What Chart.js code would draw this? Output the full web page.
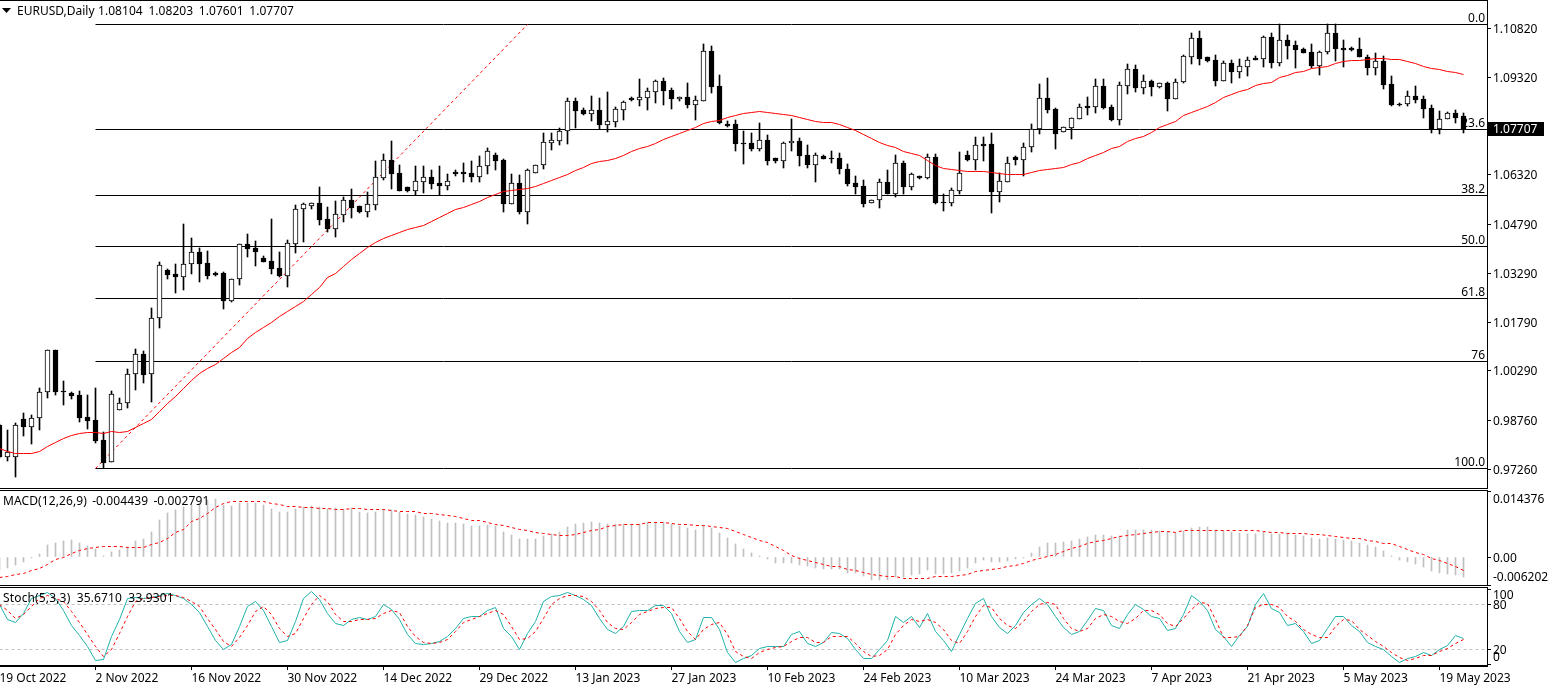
<!DOCTYPE html>
<html><head><meta charset="utf-8"><title>EURUSD,Daily</title>
<script src="https://cdn.jsdelivr.net/npm/chart.js@4"></script>
<style>
html,body{margin:0;padding:0;background:#fff;width:1552px;height:686px;overflow:hidden}
canvas{position:absolute;left:0;display:block}
</style></head><body>
<canvas id="price" width="1552" height="489" style="top:0"></canvas>
<canvas id="macd" width="1552" height="96" style="top:490px"></canvas>
<canvas id="stoch" width="1552" height="99" style="top:587px"></canvas>
<script>
const opens=[0.9862,0.9762,0.9762,0.9880,0.9855,0.9882,0.9963,1.0092,0.9966,0.9960,0.9954,0.9885,0.9877,0.9815,0.9748,0.9907,0.9929,1.0018,1.0080,1.0018,1.0190,1.0338,1.0326,1.0317,1.0357,1.0393,1.0360,1.0329,1.0329,1.0243,1.0310,1.0418,1.0406,1.0374,1.0366,1.0344,1.0320,1.0418,1.0525,1.0535,1.0544,1.0495,1.0464,1.0507,1.0553,1.0535,1.0516,1.0538,1.0621,1.0676,1.0636,1.0593,1.0581,1.0609,1.0624,1.0606,1.0596,1.0639,1.0639,1.0636,1.0624,1.0658,1.0692,1.0676,1.0541,1.0606,1.0516,1.0636,1.0661,1.0729,1.0735,1.0765,1.0858,1.0830,1.0818,1.0830,1.0784,1.0793,1.0830,1.0867,1.0861,1.0867,1.0885,1.0919,1.0891,1.0864,1.0870,1.0845,1.0858,1.1011,1.0904,1.0787,1.0787,1.0729,1.0729,1.0710,1.0738,1.0682,1.0673,1.0729,1.0735,1.0692,1.0661,1.0689,1.0682,1.0682,1.0648,1.0606,1.0596,1.0544,1.0553,1.0609,1.0572,1.0667,1.0593,1.0627,1.0621,1.0686,1.0547,1.0544,1.0581,1.0692,1.0676,1.0725,1.0725,1.0578,1.0609,1.0686,1.0676,1.0716,1.0771,1.0867,1.0833,1.0762,1.0774,1.0802,1.0842,1.0839,1.0904,1.0839,1.0799,1.0904,1.0956,1.0898,1.0919,1.0901,1.0913,1.0864,1.0916,1.0993,1.1051,1.0993,1.0984,1.0919,1.0974,1.0947,1.0962,1.0990,1.0987,1.1054,1.0974,1.1045,1.1030,1.1017,1.1008,1.0965,1.1008,1.1067,1.1020,1.1020,1.1017,1.0993,1.0959,1.0981,1.0910,1.0848,1.0848,1.0873,1.0864,1.0836,1.0771,1.0802,1.0821,1.08104];
const highs=[0.9865,0.9846,0.9868,0.9898,0.9892,0.9975,1.0092,1.0092,0.9997,0.9963,0.9966,0.9954,0.9975,0.9840,0.9966,0.9944,1.0033,1.0095,1.0089,1.0221,1.0363,1.0341,1.0357,1.0480,1.0436,1.0406,1.0396,1.0332,1.0332,1.0310,1.0418,1.0449,1.0427,1.0381,1.0495,1.0393,1.0430,1.0538,1.0544,1.0544,1.0593,1.0532,1.0550,1.0562,1.0587,1.0535,1.0578,1.0673,1.0695,1.0735,1.0661,1.0593,1.0658,1.0658,1.0645,1.0658,1.0633,1.0645,1.0667,1.0673,1.0689,1.0713,1.0698,1.0679,1.0633,1.0630,1.0648,1.0661,1.0759,1.0759,1.0774,1.0867,1.0867,1.0836,1.0873,1.0867,1.0885,1.0839,1.0858,1.0870,1.0925,1.0898,1.0922,1.0928,1.0898,1.0870,1.0913,1.0873,1.1033,1.1027,1.0938,1.0796,1.0799,1.0765,1.0759,1.0790,1.0753,1.0682,1.0732,1.0802,1.0744,1.0722,1.0698,1.0692,1.0704,1.0698,1.0664,1.0627,1.0615,1.0553,1.0618,1.0645,1.0692,1.0673,1.0636,1.0627,1.0695,1.0695,1.0572,1.0590,1.0701,1.0704,1.0747,1.0747,1.0759,1.0636,1.0686,1.0689,1.0729,1.0787,1.0910,1.0928,1.0836,1.0778,1.0805,1.0848,1.0870,1.0925,1.0925,1.0845,1.0916,1.0971,1.0968,1.0938,1.0922,1.0913,1.0916,1.0925,1.0999,1.1067,1.1073,1.0993,1.0999,1.0981,1.0984,1.0987,1.0993,1.0996,1.1057,1.1067,1.1094,1.1060,1.1042,1.1020,1.1033,1.1011,1.1094,1.1094,1.1045,1.1023,1.1051,1.0999,1.1005,1.0996,1.0934,1.0851,1.0888,1.0904,1.0873,1.0845,1.0827,1.0824,1.0830,1.08203];
const lows=[0.9759,0.9751,0.9701,0.9828,0.9803,0.9846,0.9944,0.9954,0.9923,0.9941,0.9871,0.9849,0.9806,0.9729,0.9748,0.9907,0.9913,0.9969,0.9991,0.9932,1.0159,1.0310,1.0267,1.0276,1.0326,1.0301,1.0310,1.0320,1.0218,1.0240,1.0292,1.0377,1.0351,1.0363,1.0326,1.0317,1.0286,1.0390,1.0424,1.0525,1.0476,1.0455,1.0439,1.0486,1.0498,1.0513,1.0501,1.0522,1.0615,1.0587,1.0581,1.0578,1.0569,1.0575,1.0587,1.0569,1.0584,1.0627,1.0609,1.0609,1.0609,1.0633,1.0645,1.0516,1.0541,1.0510,1.0480,1.0636,1.0648,1.0707,1.0722,1.0725,1.0774,1.0815,1.0796,1.0771,1.0762,1.0778,1.0799,1.0858,1.0842,1.0830,1.0851,1.0845,1.0833,1.0858,1.0836,1.0799,1.0858,1.0882,1.0787,1.0778,1.0704,1.0664,1.0704,1.0704,1.0661,1.0667,1.0651,1.0704,1.0658,1.0651,1.0609,1.0679,1.0667,1.0633,1.0596,1.0572,1.0532,1.0544,1.0528,1.0572,1.0562,1.0572,1.0584,1.0618,1.0618,1.0541,1.0519,1.0535,1.0572,1.0673,1.0645,1.0673,1.0513,1.0547,1.0609,1.0661,1.0627,1.0701,1.0756,1.0821,1.0710,1.0762,1.0741,1.0802,1.0815,1.0821,1.0833,1.0796,1.0784,1.0879,1.0885,1.0879,1.0873,1.0898,1.0827,1.0864,1.0913,1.0971,1.0968,1.0978,1.0904,1.0919,1.0913,1.0928,1.0934,1.0984,1.0962,1.0959,1.0965,1.0987,1.0959,1.1005,1.0959,1.0937,1.1002,1.0981,1.0962,1.1011,1.0993,1.0937,1.0937,1.0894,1.0842,1.0842,1.0842,1.0851,1.0805,1.0759,1.0756,1.0802,1.0790,1.07601];
const closes=[0.9762,0.9778,0.9862,0.9855,0.9882,0.9963,1.0092,0.9963,0.9963,0.9951,0.9882,0.9874,0.9812,0.9745,0.9957,0.9929,1.0018,1.0080,1.0015,1.0190,1.0354,1.0323,1.0317,1.0357,1.0393,1.0357,1.0320,1.0323,1.0243,1.0310,1.0418,1.0403,1.0393,1.0363,1.0341,1.0320,1.0421,1.0525,1.0541,1.0544,1.0492,1.0464,1.0510,1.0553,1.0528,1.0516,1.0541,1.0624,1.0676,1.0633,1.0581,1.0581,1.0612,1.0624,1.0602,1.0596,1.0612,1.0633,1.0633,1.0624,1.0658,1.0704,1.0673,1.0541,1.0606,1.0516,1.0645,1.0661,1.0732,1.0738,1.0765,1.0858,1.0827,1.0818,1.0830,1.0784,1.0796,1.0833,1.0855,1.0861,1.0870,1.0888,1.0919,1.0888,1.0864,1.0870,1.0845,1.0861,1.1011,1.0901,1.0790,1.0781,1.0725,1.0725,1.0710,1.0738,1.0673,1.0673,1.0729,1.0735,1.0689,1.0661,1.0692,1.0679,1.0679,1.0648,1.0602,1.0593,1.0541,1.0553,1.0609,1.0572,1.0667,1.0593,1.0633,1.0621,1.0686,1.0544,1.0544,1.0584,1.0636,1.0676,1.0722,1.0719,1.0578,1.0612,1.0667,1.0676,1.0716,1.0771,1.0867,1.0830,1.0756,1.0778,1.0805,1.0839,1.0836,1.0904,1.0836,1.0799,1.0907,1.0956,1.0898,1.0919,1.0901,1.0913,1.0864,1.0916,1.0996,1.1051,1.0987,1.0981,1.0919,1.0974,1.0947,1.0965,1.0984,1.0984,1.1054,1.0974,1.1045,1.1027,1.1014,1.1005,1.0965,1.1008,1.1067,1.1017,1.1014,1.1014,1.0993,1.0959,1.0981,1.0907,1.0845,1.0845,1.0873,1.0861,1.0833,1.0771,1.0802,1.0821,1.0805,1.07707];
const movingAverage=[0.9790,0.9781,0.9775,0.9775,0.9775,0.9781,0.9797,0.9809,0.9821,0.9830,0.9837,0.9840,0.9840,0.9837,0.9843,0.9840,0.9843,0.9855,0.9868,0.9880,0.9904,0.9929,0.9951,0.9975,1.0000,1.0021,1.0036,1.0049,1.0067,1.0086,1.0101,1.0129,1.0147,1.0162,1.0178,1.0196,1.0212,1.0227,1.0243,1.0264,1.0286,1.0317,1.0329,1.0351,1.0372,1.0390,1.0409,1.0424,1.0436,1.0445,1.0455,1.0464,1.0470,1.0476,1.0489,1.0501,1.0513,1.0525,1.0532,1.0541,1.0550,1.0562,1.0572,1.0581,1.0584,1.0587,1.0590,1.0596,1.0606,1.0615,1.0624,1.0633,1.0645,1.0655,1.0667,1.0673,1.0676,1.0682,1.0692,1.0704,1.0713,1.0719,1.0729,1.0741,1.0750,1.0759,1.0768,1.0778,1.0790,1.0796,1.0799,1.0808,1.0815,1.0821,1.0824,1.0827,1.0824,1.0821,1.0818,1.0815,1.0808,1.0802,1.0796,1.0793,1.0793,1.0787,1.0778,1.0768,1.0756,1.0744,1.0732,1.0722,1.0716,1.0704,1.0698,1.0692,1.0676,1.0661,1.0651,1.0648,1.0645,1.0642,1.0642,1.0642,1.0639,1.0636,1.0633,1.0633,1.0633,1.0639,1.0645,1.0648,1.0651,1.0655,1.0664,1.0670,1.0682,1.0692,1.0701,1.0713,1.0719,1.0735,1.0744,1.0750,1.0762,1.0778,1.0787,1.0796,1.0815,1.0824,1.0833,1.0842,1.0855,1.0870,1.0879,1.0888,1.0894,1.0907,1.0913,1.0916,1.0931,1.0937,1.0947,1.0950,1.0959,1.0962,1.0965,1.0974,1.0981,1.0984,1.0984,1.0987,1.0990,1.0990,1.0987,1.0987,1.0981,1.0974,1.0965,1.0959,1.0956,1.0950,1.0947,1.0941];
const macdHistogram=[-0.00278,-0.00242,-0.00183,-0.00117,-0.00029,0.00059,0.00256,0.00300,0.00344,0.00366,0.00300,0.00249,0.00176,0.00029,0.00102,0.00146,0.00212,0.00344,0.00388,0.00542,0.00805,0.00959,0.01039,0.01098,0.01149,0.01186,0.01244,0.01281,0.01149,0.01127,0.01186,0.01186,0.01186,0.01135,0.01054,0.00981,0.00981,0.01054,0.01098,0.01113,0.01091,0.01061,0.01076,0.01054,0.01076,0.00981,0.00966,0.00981,0.01039,0.01039,0.00981,0.00944,0.00930,0.00871,0.00842,0.00783,0.00747,0.00747,0.00725,0.00673,0.00673,0.00695,0.00673,0.00542,0.00490,0.00388,0.00388,0.00388,0.00454,0.00505,0.00542,0.00651,0.00717,0.00747,0.00761,0.00747,0.00725,0.00717,0.00717,0.00732,0.00732,0.00761,0.00761,0.00761,0.00732,0.00673,0.00630,0.00586,0.00688,0.00630,0.00520,0.00410,0.00278,0.00168,0.00081,0.00015,-0.00044,-0.00139,-0.00139,-0.00139,-0.00183,-0.00205,-0.00249,-0.00271,-0.00271,-0.00271,-0.00359,-0.00359,-0.00425,-0.00512,-0.00512,-0.00512,-0.00447,-0.00447,-0.00403,-0.00381,-0.00293,-0.00381,-0.00366,-0.00359,-0.00315,-0.00249,-0.00139,-0.00059,-0.00117,-0.00117,-0.00095,-0.00044,-0.00015,0.00088,0.00212,0.00307,0.00307,0.00322,0.00344,0.00395,0.00432,0.00490,0.00490,0.00454,0.00468,0.00586,0.00586,0.00600,0.00600,0.00578,0.00542,0.00527,0.00578,0.00644,0.00659,0.00659,0.00600,0.00578,0.00542,0.00527,0.00498,0.00505,0.00542,0.00505,0.00505,0.00527,0.00490,0.00461,0.00417,0.00395,0.00417,0.00395,0.00366,0.00344,0.00307,0.00264,0.00220,0.00139,0.00015,-0.00073,-0.00117,-0.00154,-0.00227,-0.00315,-0.00359,-0.00381,-0.00403,-0.004439];
const macdSignal=[-0.00447,-0.00425,-0.00381,-0.00351,-0.00293,-0.00249,-0.00146,-0.00044,0,0.00088,0.00161,0.00205,0.00227,0.00249,0.00249,0.00242,0.00227,0.00227,0.00227,0.00278,0.00322,0.00410,0.00542,0.00622,0.00783,0.00864,0.00966,0.01098,0.01186,0.01222,0.01237,0.01237,0.01237,0.01222,0.01186,0.01164,0.01127,0.01113,0.01098,0.01105,0.01083,0.01069,0.01054,0.01061,0.01069,0.01069,0.01061,0.01054,0.01047,0.01039,0.01017,0.01017,0.01003,0.00974,0.00966,0.00937,0.00922,0.00900,0.00856,0.00820,0.00805,0.00761,0.00725,0.00703,0.00659,0.00622,0.00600,0.00549,0.00527,0.00505,0.00490,0.00483,0.00512,0.00542,0.00600,0.00622,0.00673,0.00703,0.00717,0.00732,0.00732,0.00761,0.00761,0.00761,0.00754,0.00732,0.00725,0.00710,0.00710,0.00673,0.00666,0.00637,0.00564,0.00512,0.00447,0.00381,0.00322,0.00234,0.00161,0.00051,-0.00022,-0.00073,-0.00117,-0.00154,-0.00190,-0.00205,-0.00264,-0.00278,-0.00322,-0.00366,-0.00395,-0.00410,-0.00425,-0.00454,-0.00454,-0.00454,-0.00454,-0.00425,-0.00410,-0.00410,-0.00388,-0.00366,-0.00315,-0.00293,-0.00256,-0.00234,-0.00205,-0.00168,-0.00132,-0.00073,-0.00022,0.00029,0.00073,0.00124,0.00190,0.00249,0.00300,0.00344,0.00381,0.00417,0.00454,0.00483,0.00505,0.00520,0.00542,0.00564,0.00564,0.00556,0.00593,0.00600,0.00600,0.00600,0.00600,0.00600,0.00600,0.00600,0.00600,0.00593,0.00578,0.00556,0.00549,0.00534,0.00534,0.00520,0.00512,0.00505,0.00490,0.00468,0.00447,0.00425,0.00410,0.00381,0.00344,0.00307,0.00300,0.00234,0.00176,0.00102,0.00066,-0.00022,-0.00073,-0.00139,-0.00205,-0.002791];
const stochMain=[80,61,56,69,89,93,97,89,73,52,39,24,6,7,38,60,89,90,89,90,93,95,93,88,81,70,51,32,20,27,51,78,85,73,51,30,32,58,88,98,87,69,55,52,61,63,61,64,80,74,60,40,29,27,28,31,38,49,62,65,65,72,76,48,38,20,42,58,84,91,93,96,93,87,79,62,47,42,51,71,73,73,79,79,69,44,30,34,63,63,47,16,3,9,13,22,24,24,24,40,44,29,25,30,43,42,35,21,8,9,21,33,64,57,64,50,68,45,33,18,40,62,82,89,64,50,42,53,70,81,88,81,65,50,40,44,59,75,73,52,48,67,80,74,65,62,46,48,67,92,84,72,47,38,24,39,51,81,95,75,70,52,55,45,28,32,49,65,64,52,44,30,25,20,11,3,8,11,17,13,20,26,39,35.671];
const stochSignal=[80,73,62,67,78,89,93,89,84,71,56,40,24,11,20,42,64,84,89,90,91,92,92,90,84,78,62,47,31,25,36,53,71,78,67,49,38,42,62,80,92,84,67,58,58,61,60,62,69,72,70,51,38,30,28,30,34,45,56,61,64,69,72,67,51,34,35,44,62,80,89,93,93,91,84,72,56,49,47,56,67,71,75,76,76,62,44,34,47,54,57,40,18,11,9,17,20,23,24,31,37,36,30,30,38,38,38,28,18,11,13,21,40,53,60,58,60,57,47,32,29,44,64,79,76,62,52,48,58,71,81,83,80,62,49,44,49,62,67,64,58,55,62,72,72,67,55,51,62,74,83,82,60,37,36,38,53,76,81,81,76,64,58,47,41,36,37,51,60,59,47,39,31,24,17,10,6,8,12,13,18,22,29,33.93];
const priceTicks=[1.1082,1.0932,1.0782,1.0632,1.0479,1.0329,1.0179,1.0029,0.9876,0.9726];
const macdTicks=[0.014376,0,-0.006202];
const stochTicks=[100,80,20,0];
const stochLevels=[80,20];
const dateLabels=['19 Oct 2022','2 Nov 2022','16 Nov 2022','30 Nov 2022','14 Dec 2022','29 Dec 2022','13 Jan 2023','27 Jan 2023','10 Feb 2023','24 Feb 2023','10 Mar 2023','24 Mar 2023','7 Apr 2023','21 Apr 2023','5 May 2023','19 May 2023'];
const barsPerLabel=12;
const fibLabels=['0.0','23.6','38.2','50.0','61.8','76','100.0'];
const fibPrices=[1.1093,1.0771,1.0570,1.0411,1.0251,1.0057,0.9728];
const fibFromBar=12, fibToBar=186, trendToBar=66;
const symbolTitle='EURUSD,Daily', ohlcTitle='1.08104 1.08203 1.07601 1.07707';
const macdTitle='MACD(12,26,9) -0.004439 -0.002791';
const stochTitle='Stoch(5,3,3) 35.6710 33.9301';
const lastPrice=1.07707;

const FONT='12px "Noto Sans"', INK='#000';
const XMIN=0.0625, XMAX=185.9375, AXIS_W=65;
const bars=opens.map((_,i)=>i);

function snap(s){const p=Object.getPrototypeOf(s);s.getPixelForValue=v=>Math.round(p.getPixelForValue.call(s,v));}
function xAxis(show){return {type:'linear',display:show,min:XMIN,max:XMAX,offset:false,
  grid:{display:show,offset:false,drawOnChartArea:false,color:INK,tickLength:4},
  border:{display:show,color:INK},
  afterBuildTicks(s){s.ticks=dateLabels.map((_,k)=>({value:k*barsPerLabel}));},
  afterFit(s){s.paddingLeft=0;s.paddingRight=0;if(show)s.height=20;},
  ticks:{display:show,autoSkip:false,maxRotation:0,align:'start',padding:1,color:INK,font:{family:'Noto Sans',size:12},
    callback(v){return dateLabels[Math.round(v/barsPerLabel)];}}};}
function yAxis(min,max,ticks,labelled,fmt){return {type:'linear',position:'right',min,max,
  grid:{drawOnChartArea:false,color:INK,tickLength:4},border:{display:true,color:INK},
  afterBuildTicks(s){s.ticks=ticks.map(v=>({value:v}));snap(s);},
  afterFit(s){s.width=AXIS_W;s.paddingTop=0;s.paddingBottom=0;},
  ticks:{display:labelled,autoSkip:false,padding:2,labelOffset:2,color:INK,font:{family:'Noto Sans',size:12},callback:fmt}};}
const crisp={id:'crisp',
  beforeDatasetDraw(c,a){if(a.meta.type==='line'){c.ctx.save();c.ctx.translate(0,0.5);}},
  afterDatasetDraw(c,a){if(a.meta.type==='line')c.ctx.restore();}};
function text(ctx,s,x,y,align,color,letter,word){ctx.save();ctx.font=FONT;ctx.fillStyle=color||INK;ctx.textAlign=align||'left';ctx.textBaseline='middle';
  ctx.letterSpacing=(letter||0)+'px';ctx.wordSpacing=(word||0)+'px';ctx.fillText(s,x,y+1.5);ctx.restore();}
function frame(ctx,a){ctx.fillStyle=INK;ctx.fillRect(0,a.top,a.right+1,1);ctx.fillRect(0,a.bottom-1,a.right+1,1);}
function base(type,datasets,scales,plugins){return {type,data:{datasets},plugins:[crisp].concat(plugins),
  options:{responsive:false,animation:false,devicePixelRatio:1,events:[],parsing:true,layout:{padding:0},
    plugins:{legend:{display:false},tooltip:{enabled:false},title:{display:false}},
    elements:{point:{radius:0},line:{tension:0}},scales}};}

new Chart(document.getElementById('price'),base('bar',[
  ...fibPrices.map(p=>({type:'line',order:6,data:[{x:fibFromBar,y:p},{x:fibToBar,y:p}],borderColor:INK,borderWidth:1})),
  {type:'line',order:5,data:[{x:fibFromBar,y:fibPrices[6]},{x:trendToBar,y:fibPrices[0]}],borderColor:'#FF0000',borderWidth:1,borderDash:[3,3]},
  {type:'bar',order:4,grouped:false,barThickness:1,backgroundColor:INK,data:bars.map(i=>({x:i,y:[lows[i],highs[i]]}))},
  {type:'bar',order:3,grouped:false,barThickness:5,minBarLength:1,borderSkipped:false,borderWidth:1,borderColor:INK,
    backgroundColor:bars.map(i=>closes[i]>=opens[i]?'#FFFFFF':INK),data:bars.map(i=>({x:i,y:[opens[i],closes[i]]}))},
  {type:'line',order:1,data:bars.map(i=>({x:i,y:movingAverage[i]})),borderColor:'#FF0000',borderWidth:1}
],{x:xAxis(false),y:yAxis(0.96644,1.11681,priceTicks,true,v=>v.toFixed(5))},[{id:'priceDecor',
  beforeDatasetsDraw(c){const y=c.scales.y;fibLabels.forEach((l,k)=>text(c.ctx,l,1485,y.getPixelForValue(fibPrices[k])-6.5,'right'));},
  afterDraw(c){const ctx=c.ctx,y=c.scales.y,a=c.chartArea;frame(ctx,a);
    ctx.fillStyle=INK;ctx.beginPath();ctx.moveTo(2,8);ctx.lineTo(11,8);ctx.lineTo(6.5,13);ctx.closePath();ctx.fill();
    text(ctx,symbolTitle,17,10);text(ctx,ohlcTitle,98,10,'left',INK,0.05,2.5);
    const p=y.getPixelForValue(lastPrice);ctx.fillStyle=INK;ctx.fillRect(a.right+1,p-7,56,14);
    text(ctx,lastPrice.toFixed(5),a.right+6,p-0.5,'left','#FFFFFF');}}]));

new Chart(document.getElementById('macd'),base('bar',[
  {type:'bar',order:3,grouped:false,barThickness:1,backgroundColor:'#C0C0C0',data:bars.map(i=>({x:i,y:macdHistogram[i]}))},
  {type:'line',order:1,data:bars.map(i=>({x:i,y:macdSignal[i]})),borderColor:'#FF0000',borderWidth:1,borderDash:[3,3]}
],{x:xAxis(false),y:yAxis(-0.006367,0.014705,macdTicks,false,v=>v)},[{id:'macdDecor',
  afterDraw(c){const ctx=c.ctx,y=c.scales.y,a=c.chartArea;frame(ctx,a);
    text(ctx,macdTitle,3,10.5,'left',INK,0.1,2);const x=a.right+6;
    text(ctx,macdTicks[0].toFixed(6),x,y.getPixelForValue(macdTicks[0])+7);
    text(ctx,macdTicks[1].toFixed(2),x,y.getPixelForValue(macdTicks[1]));
    text(ctx,macdTicks[2].toFixed(6),x,y.getPixelForValue(macdTicks[2])-8.5);}}]));

new Chart(document.getElementById('stoch'),base('line',[
  ...stochLevels.map(l=>({type:'line',order:5,data:[{x:0,y:l},{x:fibToBar,y:l}],borderColor:'#C0C0C0',borderWidth:1,borderDash:[3,3]})),
  {type:'line',order:2,data:bars.map(i=>({x:i,y:stochMain[i]})),borderColor:'#20B2AA',borderWidth:1},
  {type:'line',order:1,data:bars.map(i=>({x:i,y:stochSignal[i]})),borderColor:'#FF0000',borderWidth:1,borderDash:[3,3]}
],{x:xAxis(true),y:yAxis(-2,103.33,stochTicks,false,v=>v)},[{id:'stochDecor',
  afterDraw(c){const ctx=c.ctx,y=c.scales.y,a=c.chartArea;frame(ctx,a);
    text(ctx,stochTitle,3,10,'left',INK,0.15,3);const x=a.right+6;
    text(ctx,'100',x,y.getPixelForValue(100)+5);
    text(ctx,'80',x,y.getPixelForValue(80));
    text(ctx,'20',x,y.getPixelForValue(20));
    text(ctx,'0',x,y.getPixelForValue(0)-8);}}]));
</script></body></html>
